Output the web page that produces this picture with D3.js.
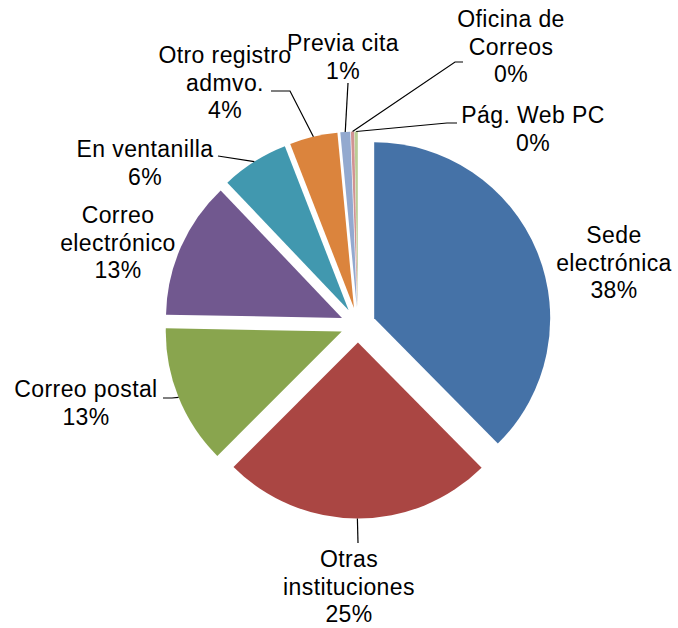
<!DOCTYPE html>
<html>
<head>
<meta charset="utf-8">
<script src="https://cdn.jsdelivr.net/npm/d3@7"></script>
<style>
  body { margin: 0; background: #fff; }
  svg text { font-family: "Liberation Sans", Arial, sans-serif; font-size: 23px; letter-spacing: 0.4px; fill: #000; }
</style>
</head>
<body>
<svg id="chart" width="678" height="628"></svg>
<script>
// data (percent of total)
var categories = ["Sede\nelectrónica", "Otras\ninstituciones", "Correo postal", "Correo\nelectrónico",
                  "En ventanilla", "Otro registro\nadmvo.", "Previa cita", "Oficina de\nCorreos", "Pág. Web PC"];
var values = [37.6, 24.9, 12.8, 12.6, 6.2, 4.4, 0.9, 0.3, 0.3];
var colors = ["#4572A7", "#AA4643", "#89A54E", "#71588F", "#4198AF", "#DB843D", "#93A9CF", "#D19392", "#B9CD96"];

// label placement (first baseline, centre x) and leader elbows
var labelX = [614, 349, 86, 118, 145, 225, 343, 511, 533];
var labelY = [243, 567, 397, 223, 157, 63, 51, 27, 123];
var leaders = [null, [[358, 543]], [[163, 398], [172, 398]], null, [[218, 156]],
               [[271, 91], [290, 91]], [[348, 83]], [[463, 62], [455, 62]], [[457, 123], [447, 123]]];

var cx = 358, cy = 325, radius = 176, explode = 17.5, lineH = 27.5;

var svg = d3.select('#chart');
var g = svg.append('g').attr('transform', 'translate(' + cx + ',' + cy + ')');

var total = d3.sum(values);
var pie = d3.pie().sort(null).value(function(d) { return d; });
var arcs = pie(values);
var arc = d3.arc().innerRadius(0).outerRadius(radius);

function mid(d) { return (d.startAngle + d.endAngle) / 2; }

g.selectAll('path')
  .data(arcs)
  .enter().append('path')
  .attr('d', arc)
  .attr('fill', function(d, i) { return colors[i]; })
  .attr('transform', function(d) {
    var a = mid(d);
    return 'translate(' + (explode * Math.sin(a)) + ',' + (-explode * Math.cos(a)) + ')';
  });

// leader lines
arcs.forEach(function(d, i) {
  if (!leaders[i]) return;
  var a = mid(d), r = radius + explode;
  var pts = leaders[i].slice();
  pts.push([cx + r * Math.sin(a), cy - r * Math.cos(a)]);
  svg.append('path')
    .attr('d', d3.line()(pts))
    .attr('fill', 'none')
    .attr('stroke', '#000')
    .attr('stroke-width', 1.2);
});

// labels
arcs.forEach(function(d, i) {
  var lines = categories[i].split('\n');
  lines.push(Math.round(d.value / total * 100) + '%');
  var t = svg.append('text')
    .attr('text-anchor', 'middle')
    .attr('x', labelX[i])
    .attr('y', labelY[i]);
  lines.forEach(function(s, k) {
    t.append('tspan')
      .attr('x', labelX[i])
      .attr('dy', k === 0 ? 0 : lineH)
      .text(s);
  });
});
</script>
</body>
</html>
